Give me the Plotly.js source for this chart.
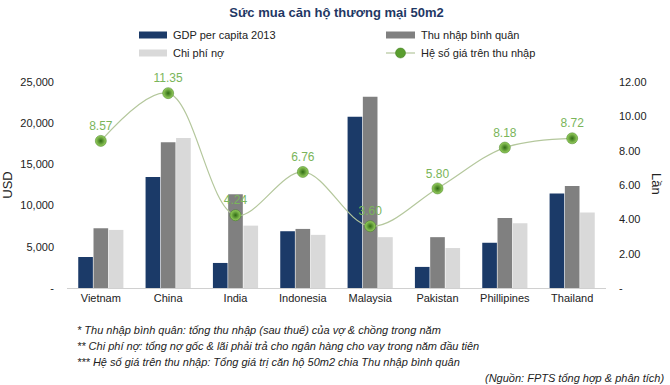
<!DOCTYPE html>
<html>
<head>
<meta charset="utf-8">
<script src="https://cdn.plot.ly/plotly-3.0.1.min.js"></script>
<style>
  html, body { margin: 0; padding: 0; background: #ffffff; }
  #chart { width: 670px; height: 385px; }
</style>
</head>
<body>
<div id="chart"></div>
<script>
// ---- Data ----
const categories = ['Vietnam', 'China', 'India', 'Indonesia', 'Malaysia', 'Pakistan', 'Phillipines', 'Thailand'];
const gdpPerCapita = [3760, 13460, 3040, 6890, 20790, 2560, 5490, 11460];
const avgIncome = [7250, 17700, 11380, 7170, 23200, 6170, 8490, 12380];
const debtCost = [7050, 18190, 7570, 6450, 6170, 4850, 7850, 9170];
const priceToIncome = [8.57, 11.35, 4.24, 6.76, 3.60, 5.80, 8.18, 8.72];

const seriesNames = ['GDP per capita 2013', 'Thu nhập bình quân', 'Chi phí nợ', 'Hệ số giá trên thu nhập'];

const leftTickVals = [0, 5000, 10000, 15000, 20000, 25000];
const leftTickText = ['-', '5,000', '10,000', '15,000', '20,000', '25,000'];
const rightTickVals = [0, 2, 4, 6, 8, 10, 12];
const rightTickText = ['-', '2.00', '4.00', '6.00', '8.00', '10.00', '12.00'];

const chartTitle = 'Sức mua căn hộ thương mại 50m2';
const leftAxisTitle = 'USD';
const rightAxisTitle = 'Lần';
const footnotes = [
  '* Thu nhập bình quân: tổng thu nhập (sau thuế) của vợ & chồng trong năm',
  '** Chi phí nợ: tổng nợ gốc & lãi phải trả cho ngân hàng cho vay trong năm đầu tiên',
  '*** Hệ số giá trên thu nhập: Tổng giá trị căn hộ 50m2 chia Thu nhập bình quân'
];
const sourceNote = '(Nguồn: FPTS tổng hợp & phân tích)';

// ---- Styling / layout ----
const W = 670, H = 385;
const M = { l: 67, r: 64, t: 82, b: 97 };
const PW = W - M.l - M.r, PH = H - M.t - M.b;
const px = x => (x - M.l) / PW;          // pixel -> paper x
const py = y => (H - M.b - y) / PH;      // pixel -> paper y

const colors = ['#1b3a68', '#808080', '#d9d9d9'];
const lineColor = '#b4c79c';
const labelGreen = '#7ab55a';
const FONT = 'Liberation Sans, Arial, sans-serif';

const barSeries = [gdpPerCapita, avgIncome, debtCost];
const traces = barSeries.map((vals, i) => ({
  type: 'bar',
  name: seriesNames[i],
  x: categories,
  y: vals,
  marker: { color: colors[i] },
  showlegend: false,
  hoverinfo: 'x+y'
}));

traces.push({
  type: 'scatter',
  mode: 'lines+markers+text',
  name: seriesNames[3],
  x: categories,
  y: priceToIncome,
  yaxis: 'y2',
  line: { color: lineColor, width: 1.2, shape: 'spline', smoothing: 1 },
  marker: {
    size: 11,
    color: '#9ad260',
    gradient: { type: 'radial', color: '#2f6a14' },
    line: { color: '#3c7a1c', width: 0.5 }
  },
  text: priceToIncome.map(v => v.toFixed(2)),
  textposition: 'top center',
  textfont: { family: FONT, size: 12, color: labelGreen },
  showlegend: false,
  cliponaxis: false
});

// ---- Manual legend (two rows x two columns) ----
const legendRows = [35, 53];
const legendCols = [{ s0: 139, s1: 167, t: 171 }, { s0: 386, s1: 415, t: 419 }];
const legendPos = [
  { r: 0, c: 0 }, { r: 0, c: 1 }, { r: 1, c: 0 }, { r: 1, c: 1 }
];
const shapes = [];
const annotations = [];
legendPos.forEach((p, i) => {
  const yc = legendRows[p.r];
  const col = legendCols[p.c];
  if (i < 3) {
    shapes.push({
      type: 'rect', xref: 'paper', yref: 'paper',
      x0: px(col.s0), x1: px(col.s1), y0: py(yc + 3.5), y1: py(yc - 3.5),
      fillcolor: colors[i], line: { width: 0 }
    });
  } else {
    shapes.push({
      type: 'line', xref: 'paper', yref: 'paper',
      x0: px(col.s0), x1: px(col.s1), y0: py(yc), y1: py(yc),
      line: { color: lineColor, width: 1.2 }
    });
    const cx = (col.s0 + col.s1) / 2;
    shapes.push({
      type: 'circle', xref: 'paper', yref: 'paper',
      x0: px(cx - 5), x1: px(cx + 5), y0: py(yc + 5), y1: py(yc - 5),
      fillcolor: '#5a9e2f', line: { color: '#3c7a1c', width: 0.5 }
    });
  }
  annotations.push({
    xref: 'paper', yref: 'paper', x: px(col.t), y: py(yc),
    xanchor: 'left', yanchor: 'middle', showarrow: false,
    text: seriesNames[i], font: { family: FONT, size: 11, color: '#222222' }
  });
});

// Right axis title (reads top-to-bottom)
annotations.push({
  xref: 'paper', yref: 'paper', x: px(657), y: py(184),
  xanchor: 'center', yanchor: 'middle', showarrow: false, textangle: 90,
  text: rightAxisTitle, font: { family: FONT, size: 13, color: '#222222' }
});

// Footnotes
const footY = [330, 346, 362];
footnotes.forEach((t, i) => {
  annotations.push({
    xref: 'paper', yref: 'paper', x: px(75), y: py(footY[i]),
    xanchor: 'left', yanchor: 'middle', showarrow: false,
    text: '<i>' + t + '</i>', font: { family: FONT, size: 11, color: '#222222' }
  });
});
annotations.push({
  xref: 'paper', yref: 'paper', x: px(666), y: py(378),
  xanchor: 'right', yanchor: 'middle', showarrow: false,
  text: '<i>' + sourceNote + '</i>', font: { family: FONT, size: 11, color: '#222222' }
});

const layout = {
  width: W, height: H,
  margin: M,
  paper_bgcolor: '#ffffff', plot_bgcolor: '#ffffff',
  font: { family: FONT, size: 11, color: '#222222' },
  title: {
    text: '<b>' + chartTitle + '</b>',
    x: 0.5, xref: 'paper', xanchor: 'center',
    y: 1 - 12 / H, yref: 'container', yanchor: 'middle',
    font: { family: FONT, size: 13, color: '#1f3864' }
  },
  barmode: 'group',
  bargap: 0.32,
  bargroupgap: 0.04,
  showlegend: false,
  xaxis: {
    type: 'category',
    categoryorder: 'array', categoryarray: categories,
    showline: true, linecolor: '#d0d0d0', linewidth: 1,
    ticks: '', showgrid: false, zeroline: false,
    tickfont: { family: FONT, size: 11, color: '#222222' },
    fixedrange: true
  },
  yaxis: {
    range: [0, 25000],
    tickvals: leftTickVals, ticktext: leftTickText,
    showgrid: false, zeroline: false, showline: false, ticks: '',
    ticklabelstandoff: 12,
    tickfont: { family: FONT, size: 11, color: '#222222' },
    title: { text: leftAxisTitle, standoff: 6, font: { family: FONT, size: 13, color: '#222222' } },
    automargin: false,
    fixedrange: true
  },
  yaxis2: {
    overlaying: 'y', side: 'right',
    range: [0, 12],
    tickvals: rightTickVals, ticktext: rightTickText,
    showgrid: false, zeroline: false, showline: false, ticks: '',
    ticklabelstandoff: 12,
    tickfont: { family: FONT, size: 11, color: '#222222' },
    automargin: false,
    fixedrange: true
  },
  shapes: shapes,
  annotations: annotations
};

Plotly.newPlot('chart', traces, layout, { displayModeBar: false, staticPlot: true });
</script>
</body>
</html>
